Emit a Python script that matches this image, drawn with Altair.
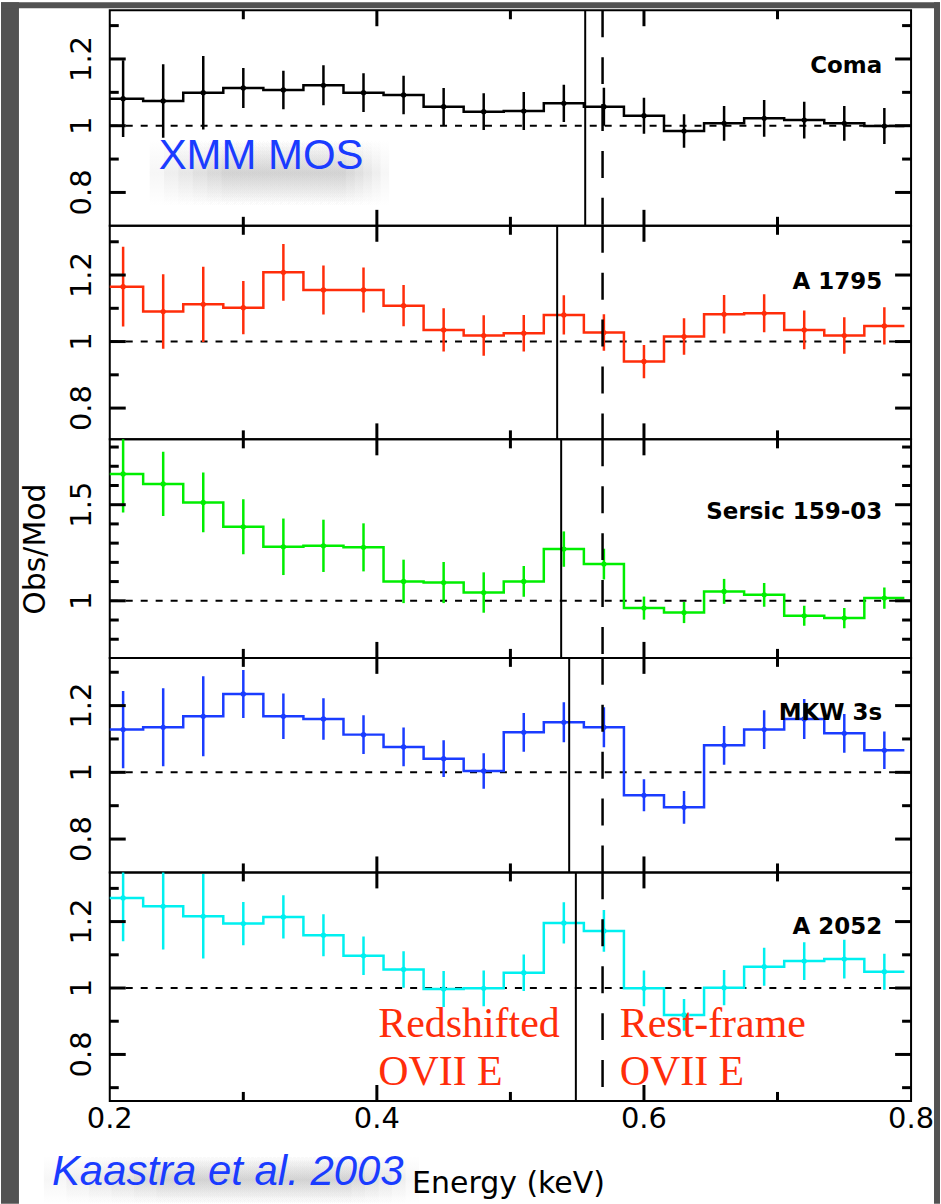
import altair as alt
import pandas as pd

# ---------------- data ----------------
energy_kev = [0.21, 0.24, 0.27, 0.30, 0.33, 0.36, 0.39, 0.42, 0.45, 0.48,
              0.51, 0.54, 0.57, 0.60, 0.63, 0.66, 0.69, 0.72, 0.75, 0.78]
bin_half_width = 0.015

cluster_names = ["Coma", "A 1795", "Sersic 159-03", "MKW 3s", "A 2052"]
cluster_colors = ["#000000", "#ff2d0a", "#00ee00", "#1a3cff", "#00f0f0"]

coma_ratio = [1.081, 1.074, 1.099, 1.113, 1.107, 1.121, 1.099, 1.092, 1.057, 1.042,
              1.044, 1.067, 1.057, 1.030, 0.984, 1.007, 1.022, 1.017, 1.007, 0.999]
coma_err = [0.115, 0.110, 0.110, 0.060, 0.058, 0.060, 0.058, 0.058, 0.056, 0.055,
            0.057, 0.056, 0.057, 0.054, 0.050, 0.052, 0.055, 0.055, 0.052, 0.054]

a1795_ratio = [1.165, 1.090, 1.112, 1.102, 1.208, 1.155, 1.155, 1.108, 1.035, 1.018,
               1.025, 1.080, 1.027, 0.940, 1.015, 1.082, 1.085, 1.035, 1.018, 1.047]
a1795_err = [0.120, 0.112, 0.113, 0.080, 0.085, 0.074, 0.068, 0.062, 0.065, 0.061,
             0.055, 0.059, 0.055, 0.050, 0.055, 0.058, 0.057, 0.058, 0.055, 0.056]

sersic_ratio = [1.660, 1.608, 1.512, 1.385, 1.281, 1.286, 1.278, 1.101, 1.095, 1.043,
                1.101, 1.269, 1.191, 0.962, 0.939, 1.049, 1.031, 0.922, 0.910, 1.014]
sersic_err = [0.200, 0.167, 0.156, 0.143, 0.147, 0.136, 0.125, 0.113, 0.107, 0.105,
              0.080, 0.092, 0.080, 0.060, 0.055, 0.065, 0.062, 0.052, 0.053, 0.055]

mkw3s_ratio = [1.128, 1.135, 1.168, 1.235, 1.168, 1.160, 1.113, 1.076, 1.041, 1.004,
               1.120, 1.150, 1.135, 0.931, 0.895, 1.081, 1.128, 1.160, 1.117, 1.066]
mkw3s_err = [0.116, 0.117, 0.120, 0.072, 0.068, 0.062, 0.058, 0.058, 0.055, 0.053,
             0.058, 0.060, 0.060, 0.048, 0.049, 0.058, 0.058, 0.060, 0.058, 0.056]

a2052_ratio = [1.271, 1.246, 1.216, 1.194, 1.214, 1.159, 1.097, 1.056, 0.997, 0.999,
               1.046, 1.196, 1.172, 0.999, 0.919, 1.001, 1.064, 1.081, 1.087, 1.049]
a2052_err = [0.130, 0.130, 0.127, 0.065, 0.065, 0.063, 0.058, 0.055, 0.054, 0.054,
             0.055, 0.062, 0.063, 0.054, 0.048, 0.053, 0.057, 0.057, 0.058, 0.054]

redshifted_ovii_kev = [0.556, 0.535, 0.538, 0.544, 0.549]
restframe_ovii_kev = 0.569

y_domains = [[0.70, 1.346], [0.706, 1.348], [0.703, 1.84], [0.70, 1.343], [0.66, 1.348]]
y_major_ticks = [[0.8, 1.0, 1.2], [0.8, 1.0, 1.2], [1.0, 1.5], [0.8, 1.0, 1.2], [0.8, 1.0, 1.2]]
y_major_labels = [["0.8", "1", "1.2"], ["0.8", "1", "1.2"], ["1", "1.5"],
                  ["0.8", "1", "1.2"], ["0.8", "1", "1.2"]]
y_minor_ticks = [[0.9, 1.1, 1.3], [0.9, 1.1, 1.3],
                 [0.8, 0.9, 1.1, 1.2, 1.3, 1.4, 1.6, 1.7, 1.8],
                 [0.9, 1.1, 1.3], [0.7, 0.9, 1.1, 1.3]]
x_domain = [0.2, 0.8]
x_major_ticks = [0.4, 0.6]
x_minor_ticks = [0.3, 0.5, 0.7]
x_label_values = [0.2, 0.4, 0.6, 0.8]
x_label_text = ["0.2", "0.4", "0.6", "0.8"]

ratios = [coma_ratio, a1795_ratio, sersic_ratio, mkw3s_ratio, a2052_ratio]
errors = [coma_err, a1795_err, sersic_err, mkw3s_err, a2052_err]

# ---------------- layout / style ----------------
W = 803
panel_heights = [216, 214, 219, 215, 229]
MAJ, MIN = 16, 9
TICK_FONT = "DejaVu Sans"
NOTE_BLUE = "#1a3cff"

shadow_fill = alt.Gradient(
    gradient="linear", x1=0, y1=0, x2=0, y2=1,
    stops=[alt.GradientStop(color="rgba(110,110,110,0)", offset=0),
           alt.GradientStop(color="rgba(110,110,110,0.06)", offset=0.5),
           alt.GradientStop(color="rgba(110,110,110,0)", offset=1)])


def X(field):
    return alt.X(field, type="quantitative",
                 scale=alt.Scale(domain=x_domain, nice=False, zero=False), axis=None)


def Y(field, dom):
    return alt.Y(field, type="quantitative",
                 scale=alt.Scale(domain=dom, nice=False, zero=False), axis=None)


def one_row():
    return pd.DataFrame({"d": [0]})


def shadow_layers(x1, x2, y1, y2, n=6):
    out = []
    w = x2 - x1
    for k in range(n):
        inset = k * w * 0.06
        out.append(alt.Chart(one_row()).mark_rect(color=shadow_fill).encode(
            x=alt.value(x1 + inset), x2=alt.value(x2 - inset * 0.6),
            y=alt.value(y1), y2=alt.value(y2)))
    return out


def tick_table(i):
    """Inward ticks on all four sides as two-point polylines
    (pixel tick lengths converted into data units)."""
    H = panel_heights[i]
    dom = y_domains[i]
    xspan = x_domain[1] - x_domain[0]
    yspan = dom[1] - dom[0]
    rows = []
    k = 0
    for vals, L in [(y_major_ticks[i], MAJ), (y_minor_ticks[i], MIN)]:
        dx = L / W * xspan
        for v in vals:
            for (xa, xb) in [(x_domain[0], x_domain[0] + dx), (x_domain[1] - dx, x_domain[1])]:
                rows.append({"id": k, "tx": xa, "ty": v})
                rows.append({"id": k, "tx": xb, "ty": v})
                k += 1
    for vals, L in [(x_major_ticks, MAJ), (x_minor_ticks, MIN)]:
        dy = L / H * yspan
        for v in vals:
            for (ya, yb) in [(dom[0], dom[0] + dy), (dom[1] - dy, dom[1])]:
                rows.append({"id": k, "tx": v, "ty": ya})
                rows.append({"id": k, "tx": v, "ty": yb})
                k += 1
    return pd.DataFrame(rows)


def panel(i):
    H = panel_heights[i]
    dom = y_domains[i]
    col = cluster_colors[i]
    vals = ratios[i]
    errs = errors[i]

    pts = pd.DataFrame({
        "e": energy_kev,
        "r": vals,
        "lo": [v - s for v, s in zip(vals, errs)],
        "hi": [v + s for v, s in zip(vals, errs)],
    })
    edges = [e - bin_half_width for e in energy_kev] + [energy_kev[-1] + bin_half_width]
    step = pd.DataFrame({"edge": edges, "r": vals + [vals[-1]]})

    layers = []

    if i == 0:
        strips = [(-109, -91, -8, 1196), (-109, 832, -8, -2), (826, 832, -8, 1196)]
        for (a, b, c, d) in strips:
            layers.append(alt.Chart(one_row()).mark_rect(color="#525252").encode(
                x=alt.value(a), x2=alt.value(b), y=alt.value(c), y2=alt.value(d)))
        layers += shadow_layers(40, 280, 130, 196)

    if i == 4:
        layers += shadow_layers(-66, 310, 284, 332)

    # unity reference line
    layers.append(alt.Chart(pd.DataFrame({"u": [1.0]})).mark_rule(
        color="black", strokeWidth=2, strokeDash=[7, 8]).encode(y=Y("u", dom)))

    # y tick labels
    ymaj = pd.DataFrame({"v": y_major_ticks[i], "t": y_major_labels[i]})
    layers.append(alt.Chart(ymaj).mark_text(
        angle=270, align="center", baseline="alphabetic", font=TICK_FONT,
        fontSize=29, color="black").encode(
        y=Y("v", dom), x=alt.value(-19), text="t:N"))

    # data: error bars, histogram step, points
    layers.append(alt.Chart(pts).mark_rule(color=col, strokeWidth=2.5, clip=True).encode(
        x=X("e"), y=Y("lo", dom), y2="hi"))
    layers.append(alt.Chart(step).mark_line(
        color=col, strokeWidth=2.5, interpolate="step-after", clip=True).encode(
        x=X("edge"), y=Y("r", dom)))
    layers.append(alt.Chart(pts).mark_point(
        filled=True, color=col, size=28, opacity=1).encode(
        x=X("e"), y=Y("r", dom)))

    # OVII lines
    layers.append(alt.Chart(pd.DataFrame({"e": [redshifted_ovii_kev[i]]})).mark_rule(
        color="black", strokeWidth=2).encode(x=X("e")))
    layers.append(alt.Chart(pd.DataFrame({"e": [restframe_ovii_kev]})).mark_rule(
        color="black", strokeWidth=2.5, strokeDash=[27, 20]).encode(x=X("e")))

    # inward ticks (short two-point lines), drawn thick so they read clearly
    layers.append(alt.Chart(tick_table(i)).mark_line(
        color="black", strokeWidth=3, strokeCap="butt").encode(
        x=X("tx"), y=Y("ty", dom), detail="id:N"))

    # cluster name
    name_y = [63, 63, 80, 62, 62][i]
    layers.append(alt.Chart(pd.DataFrame({"t": [cluster_names[i]]})).mark_text(
        align="right", baseline="alphabetic", font=TICK_FONT, fontWeight="bold",
        fontSize=23, color="black").encode(
        x=alt.value(774), y=alt.value(name_y), text="t:N"))

    if i == 0:
        layers.append(alt.Chart(pd.DataFrame({"t": ["XMM MOS"]})).mark_text(
            align="left", baseline="alphabetic", font="Liberation Sans",
            fontSize=42, color=NOTE_BLUE).encode(
            x=alt.value(49), y=alt.value(159), text="t:N"))

    if i == 2:
        layers.append(alt.Chart(pd.DataFrame({"t": ["Obs/Mod"]})).mark_text(
            angle=270, align="center", baseline="alphabetic", font=TICK_FONT,
            fontSize=30, color="black").encode(
            x=alt.value(-65), y=alt.value(110), text="t:N"))

    if i == 4:
        xl = pd.DataFrame({"v": x_label_values, "t": x_label_text})
        layers.append(alt.Chart(xl).mark_text(
            align="center", baseline="alphabetic", font=TICK_FONT, fontSize=29,
            color="black").encode(x=X("v"), y=alt.value(256), text="t:N"))
        layers.append(alt.Chart(pd.DataFrame({"t": ["Energy (keV)"]})).mark_text(
            align="left", baseline="alphabetic", font=TICK_FONT, fontSize=30,
            color="black").encode(x=alt.value(303), y=alt.value(321), text="t:N"))
        layers.append(alt.Chart(pd.DataFrame({"t": ["Kaastra et al. 2003"]})).mark_text(
            align="left", baseline="alphabetic", font="Liberation Sans", fontStyle="italic",
            fontSize=42, color=NOTE_BLUE).encode(
            x=alt.value(-58), y=alt.value(313), text="t:N"))
        red_notes = [("Redshifted", 269, 165), ("OVII E", 269, 213),
                     ("Rest-frame", 511, 165), ("OVII E", 511, 213)]
        for (t, xx, yy) in red_notes:
            layers.append(alt.Chart(pd.DataFrame({"t": [t]})).mark_text(
                align="left", baseline="alphabetic", font="Liberation Serif",
                fontSize=42, color="#ff2d0a").encode(
                x=alt.value(xx), y=alt.value(yy), text="t:N"))

    return alt.layer(*layers).properties(width=W, height=H)


chart = alt.vconcat(*[panel(i) for i in range(5)], spacing=0, bounds="flush").properties(
    padding=0, background="white"
).configure_view(stroke="black", strokeWidth=2)

chart.save("out.html", embed_options={"renderer": "svg", "actions": False})
